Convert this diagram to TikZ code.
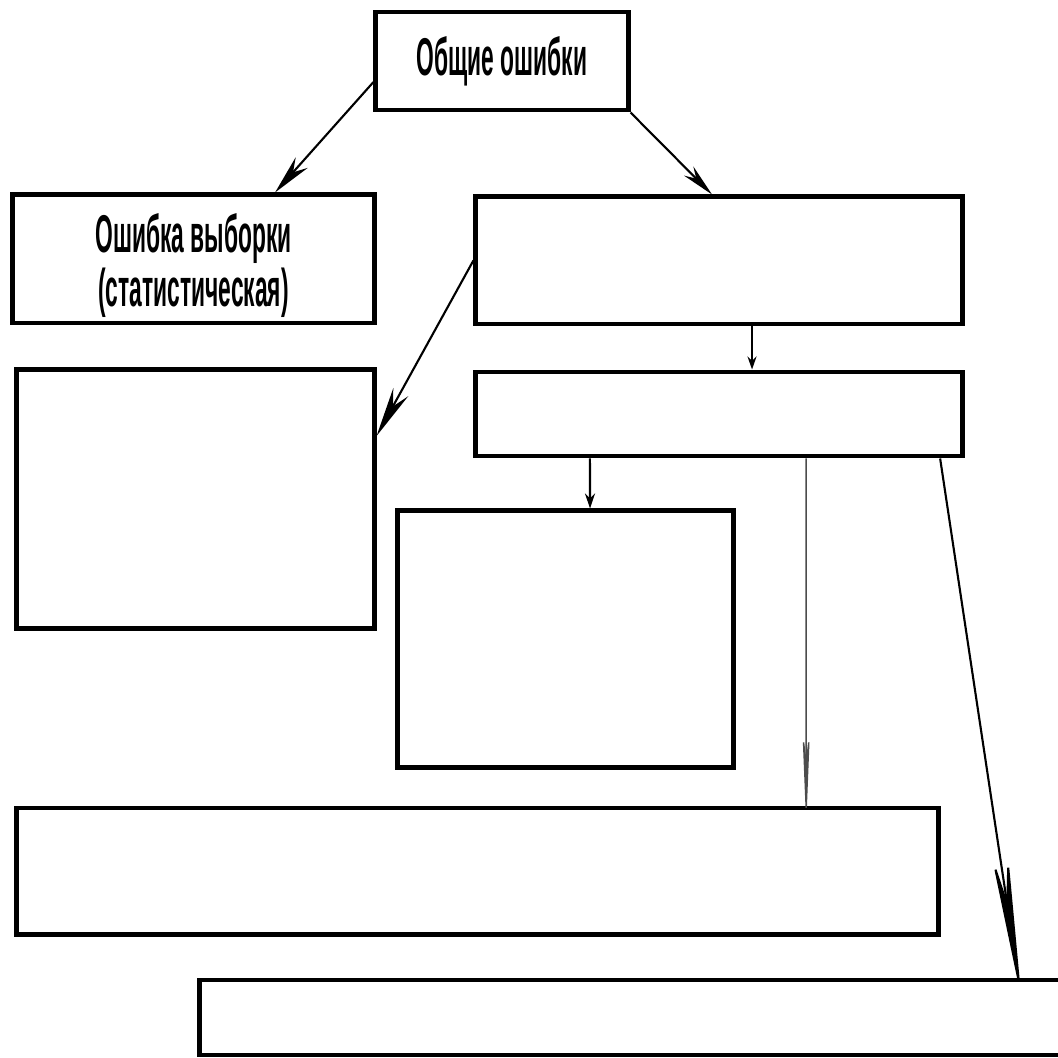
\documentclass[tikz,border=0pt]{standalone}
\usepackage{fontspec}
\usepackage{graphicx}
\setmainfont{Liberation Sans}
\usetikzlibrary{arrows.meta}

% narrow, tall lettering as in the scanned chart
\newcommand{\narrowtext}[1]{\scalebox{0.6}[1.4]{#1}}

\begin{document}
\begin{tikzpicture}[
  x=0.01cm, y=-0.01cm,
  errbox/.style={draw, line width=1.4pt, inner sep=0pt,
    font=\fontsize{10.8}{10.2}\selectfont\bfseries, align=center},
  link/.style={line width=0.6pt}
]
\useasboundingbox (0,0) rectangle (1058,1058);

% Boxes
\node[errbox, minimum width=2.52cm, minimum height=0.98cm] (common) at (502,61) {\narrowtext{Общие ошибки}};
\node[errbox, minimum width=3.61cm, minimum height=1.28cm] (sample) at (193.5,259)
  {\raisebox{-2.2mm}[0pt][0pt]{\narrowtext{\begin{tabular}{@{}c@{}}Ошибка выборки\\(статистическая)\end{tabular}}}};
\node[errbox, minimum width=4.86cm, minimum height=1.27cm] (nonsample) at (719,260.5) {};
\node[errbox, minimum width=4.86cm, minimum height=0.84cm] (kinds) at (719,414) {};
\node[errbox, minimum width=3.57cm, minimum height=2.58cm] (leftbox) at (195.5,499) {};
\node[errbox, minimum width=3.35cm, minimum height=2.56cm] (midbox) at (565.5,639) {};
\node[errbox, minimum width=9.21cm, minimum height=1.26cm] (widebox) at (477.5,871) {};
\node[errbox, minimum width=8.70cm, minimum height=0.75cm] (lowbox) at (635,1017.5) {};

% Connectors
\draw[link, -{Stealth[length=4mm, width=1.6mm]}] ([yshift=-2.1mm]common.west) -- ([xshift=8.15mm]sample.north);
\draw[link, -{Stealth[length=3.3mm, width=1.3mm]}] (common.south east) -- ([xshift=-0.7mm]nonsample.north);
\draw[link, -{Stealth[length=5mm, width=1.7mm]}] (nonsample.west) -- ([yshift=6.3mm]leftbox.east);
\draw[link, -{Stealth[length=1.3mm, width=0.9mm]}] ([xshift=3.3mm]nonsample.south) -- ([xshift=3.3mm]kinds.north);
\draw[link, -{Stealth[length=1.5mm, width=1mm]}] ([xshift=-12.9mm]kinds.south) -- ([xshift=2.45mm]midbox.north);
\draw[line width=0.4pt, black!70, shorten >=-2mm, -{Stealth[length=10mm, width=0.8mm]}] ([xshift=8.7mm]kinds.south) -- ([xshift=32.85mm]widebox.north);
\draw[link, shorten >=-2.2mm, -{Stealth[length=15mm, width=1.7mm]}] ([xshift=22.1mm]kinds.south) -- ([xshift=38.3mm]lowbox.north);

\end{tikzpicture}
\end{document}
